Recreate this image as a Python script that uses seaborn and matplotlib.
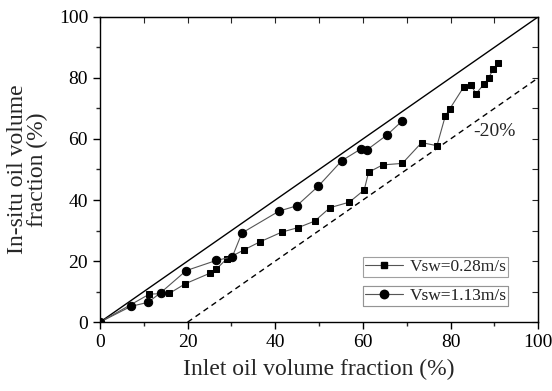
import matplotlib
matplotlib.use("Agg")
import matplotlib.pyplot as plt
import seaborn as sns
import numpy as np

sns.set_style("ticks")
plt.rcParams['font.family'] = ['Liberation Serif', 'DejaVu Serif']

sq_x = [0, 11.3, 15.8, 19.5, 25.2, 26.5, 28.9, 32.9, 36.5, 41.5, 45.3, 49.0, 52.5, 56.9, 60.3, 61.3,
        64.5, 69.0, 73.4, 76.9, 78.8, 79.8, 83.0, 84.7, 85.8, 87.7, 88.7, 89.8, 90.8]
sq_y = [0, 9.2, 9.4, 12.6, 16.1, 17.3, 20.7, 23.7, 26.3, 29.5, 31.0, 33.1, 37.5, 39.3, 43.3, 49.1,
        51.5, 52.0, 58.8, 57.8, 67.5, 69.8, 77.0, 77.6, 74.8, 78.1, 80.0, 83.0, 84.9]
ci_x = [0, 7.1, 11.0, 13.9, 19.7, 26.5, 30.2, 32.4, 40.9, 44.9, 49.8, 55.2, 59.5, 61.0, 65.5, 68.9]
ci_y = [0, 5.2, 6.5, 9.7, 16.9, 20.2, 21.4, 29.2, 36.4, 38.1, 44.5, 52.9, 56.7, 56.5, 61.3, 65.8]
labels = ["Vsw=0.28m/s", "Vsw=1.13m/s"]

fig = plt.figure(figsize=(5.52, 3.91), dpi=100)
ax = fig.add_axes([0.181, 0.176, 0.794, 0.781])

ax.plot([0, 100], [0, 100], color='black', lw=1.0)
ax.plot([20, 100], [0, 80], color='black', lw=1.0, ls=(0, (4, 3)))

sns.lineplot(x=sq_x, y=sq_y, ax=ax, estimator=None, sort=False, color='#555555', lw=0.8,
             marker='s', ms=5, mfc='black', mec='black')
sns.lineplot(x=ci_x, y=ci_y, ax=ax, estimator=None, sort=False, color='#555555', lw=0.8,
             marker='o', ms=6, mfc='black', mec='black')

ax.text(90, 62.3, "-20%", fontsize=14, ha='center', va='center')

ax.set_xlim(0, 100)
ax.set_ylim(0, 100)
ax.set_xticks([0, 20, 40, 60, 80, 100])
ax.set_yticks([0, 20, 40, 60, 80, 100])
ax.set_xticks(np.arange(10, 100, 20), minor=True)
ax.set_yticks(np.arange(10, 100, 20), minor=True)
ax.tick_params(which='major', direction='out', length=5, width=1, labelsize=14, colors='black')
ax.tick_params(which='minor', direction='out', length=3, width=1)
for s in ax.spines.values():
    s.set_visible(True)
    s.set_linewidth(1.0)
    s.set_color('black')

top = ax.secondary_xaxis('top')
top.set_xticks(np.arange(0, 101, 10))
top.tick_params(direction='in', length=4, labeltop=False)
right = ax.secondary_yaxis('right')
right.set_yticks(np.arange(0, 101, 10))
right.tick_params(direction='in', length=4, labelright=False)

ax.set_xlabel("Inlet oil volume fraction (%)", fontsize=17, labelpad=6)
ax.set_ylabel("In-situ oil volume\nfraction (%)", fontsize=17, labelpad=8, linespacing=0.9)

from matplotlib.lines import Line2D
h1 = Line2D([], [], color='#555555', lw=0.8, marker='s', ms=5, mfc='black', mec='black')
h2 = Line2D([], [], color='#555555', lw=0.8, marker='o', ms=6, mfc='black', mec='black')
for h, lab, ytop in [(h1, labels[0], 0.213), (h2, labels[1], 0.118)]:
    lg = ax.legend([h], [lab], loc='upper left', bbox_to_anchor=(0.60, ytop), fontsize=12.5,
                   frameon=True, fancybox=False, edgecolor='#888888', handlelength=2.2,
                   borderpad=0.1, handletextpad=0.4, borderaxespad=0)
    lg.get_frame().set_linewidth(0.8)
    ax.add_artist(lg)

fig.savefig("out.png", dpi=100)
